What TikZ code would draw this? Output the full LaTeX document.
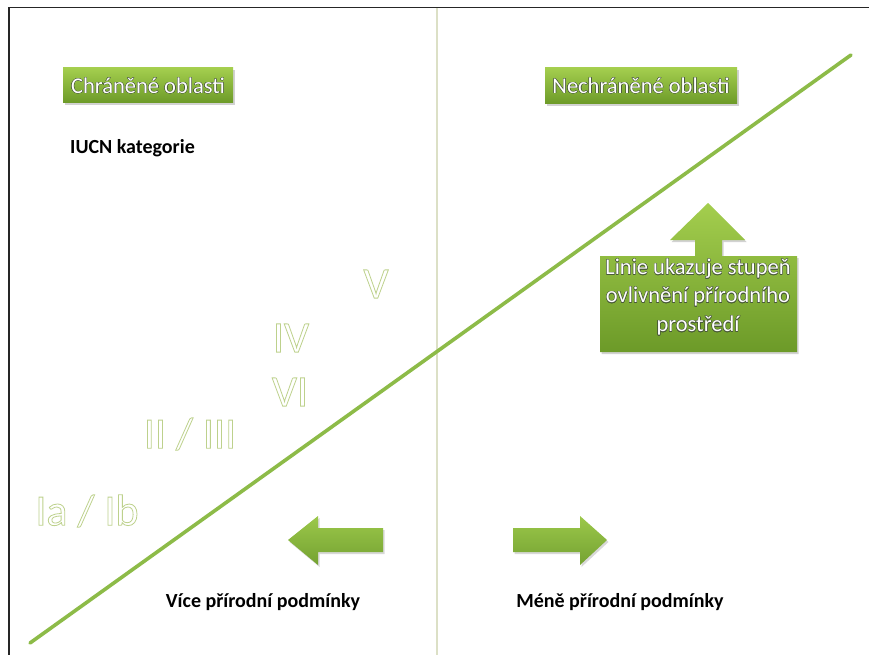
\documentclass[tikz,border=0pt]{standalone}
\usepackage{fontspec}
\setmainfont{Carlito}
\usepackage{contour}
\usetikzlibrary{shadows}
\definecolor{linegreen}{HTML}{8DBB48}
\definecolor{boxtop}{HTML}{A4CE4E}
\definecolor{boxbot}{HTML}{6C9A28}
\definecolor{arrtop}{HTML}{9CC84A}
\definecolor{arrbot}{HTML}{74A232}
\definecolor{divider}{HTML}{DCE0C6}
\definecolor{txtshadow}{HTML}{4A5A3A}
\tikzset{
  greenbox/.style={top color=boxtop, bottom color=boxbot, draw=none,
    drop shadow={shadow xshift=1.5pt, shadow yshift=-2pt, opacity=0.35}},
  arrowshape/.style={top color=arrtop, bottom color=arrbot, draw=none,
    drop shadow={shadow xshift=1.5pt, shadow yshift=-2pt, opacity=0.3}},
  boxtext/.style={text=white, font=\fontsize{22.5}{26}\selectfont, align=center, inner sep=0pt},
  numeral/.style={font=\fontsize{44}{44}\selectfont, inner sep=0pt},
  blacklabel/.style={text=black, font=\bfseries\fontsize{20}{24}\selectfont, inner sep=0pt},
}
\newcommand{\boxtxt}[1]{\contourlength{0.35pt}\contour{txtshadow}{#1}}
\newcommand{\numtxt}[1]{\special{pdf:literal direct 1 Tr 0.8 w 0.74 0.82 0.55 RG}#1\special{pdf:literal direct 0 Tr}}
\begin{document}
\begin{tikzpicture}[x=1pt,y=-1pt]
\useasboundingbox (0,0) rectangle (869,655);
\fill[white] (0,0) rectangle (869,655);
% frame
\draw[line width=1.6pt, black!85] (9,655) -- (9,7.5) -- (869,7.5);
% divider
\draw[divider, line width=1.2pt] (437,8.5) -- (437,655);
% diagonal line
\coordinate (lstart) at (30,643);
\coordinate (lend) at (851,55);
\draw[linegreen, line width=3.6pt, line cap=round] (lstart) -- (lend);
% header boxes
\path[greenbox] (63,68) rectangle (233,103);
\node[boxtext] (chr) at (148,86) {\boxtxt{Chráněné oblasti}};
\path[greenbox] (545,68) rectangle (737,104);
\node[boxtext] (nechr) at (641,86) {\boxtxt{Nechráněné oblasti}};
% IUCN label
\node[blacklabel, anchor=west] (iucn) at (70,148) {IUCN kategorie};
% numerals
\node[numeral] (n5) at (376,284) {\numtxt{V}};
\node[numeral] (n4) at (291,338) {\numtxt{IV}};
\node[numeral] (n6) at (290,392) {\numtxt{VI}};
\node[numeral] (n23) at (190,434) {\numtxt{II / III}};
\node[numeral] (n1) at (87,511) {\numtxt{Ia / Ib}};
% up arrow callout
\path[greenbox] (600,256) -- (695,256) -- (695,240) -- (670,240) -- (708,203)
  -- (745,240) -- (722,240) -- (722,256) -- (797,256) -- (797,352) -- (600,352) -- cycle;
\node[boxtext] (l1) at (698,269) {\boxtxt{Linie ukazuje stupeň}};
\node[boxtext] (l2) at (698,297) {\boxtxt{ovlivnění přírodního}};
\node[boxtext] (l3) at (698,326) {\boxtxt{prostředí}};
% left arrow
\path[arrowshape] (383,528) -- (318,528) -- (318,516) -- (288,540) -- (318,565)
  -- (318,552) -- (383,552) -- cycle;
% right arrow
\path[arrowshape] (513,528) -- (580,528) -- (580,516) -- (607,540) -- (580,565)
  -- (580,552) -- (513,552) -- cycle;
% bottom labels
\node[blacklabel] (vice) at (263,602) {Více přírodní podmínky};
\node[blacklabel] (mene) at (620,602) {Méně přírodní podmínky};
\end{tikzpicture}
\end{document}
